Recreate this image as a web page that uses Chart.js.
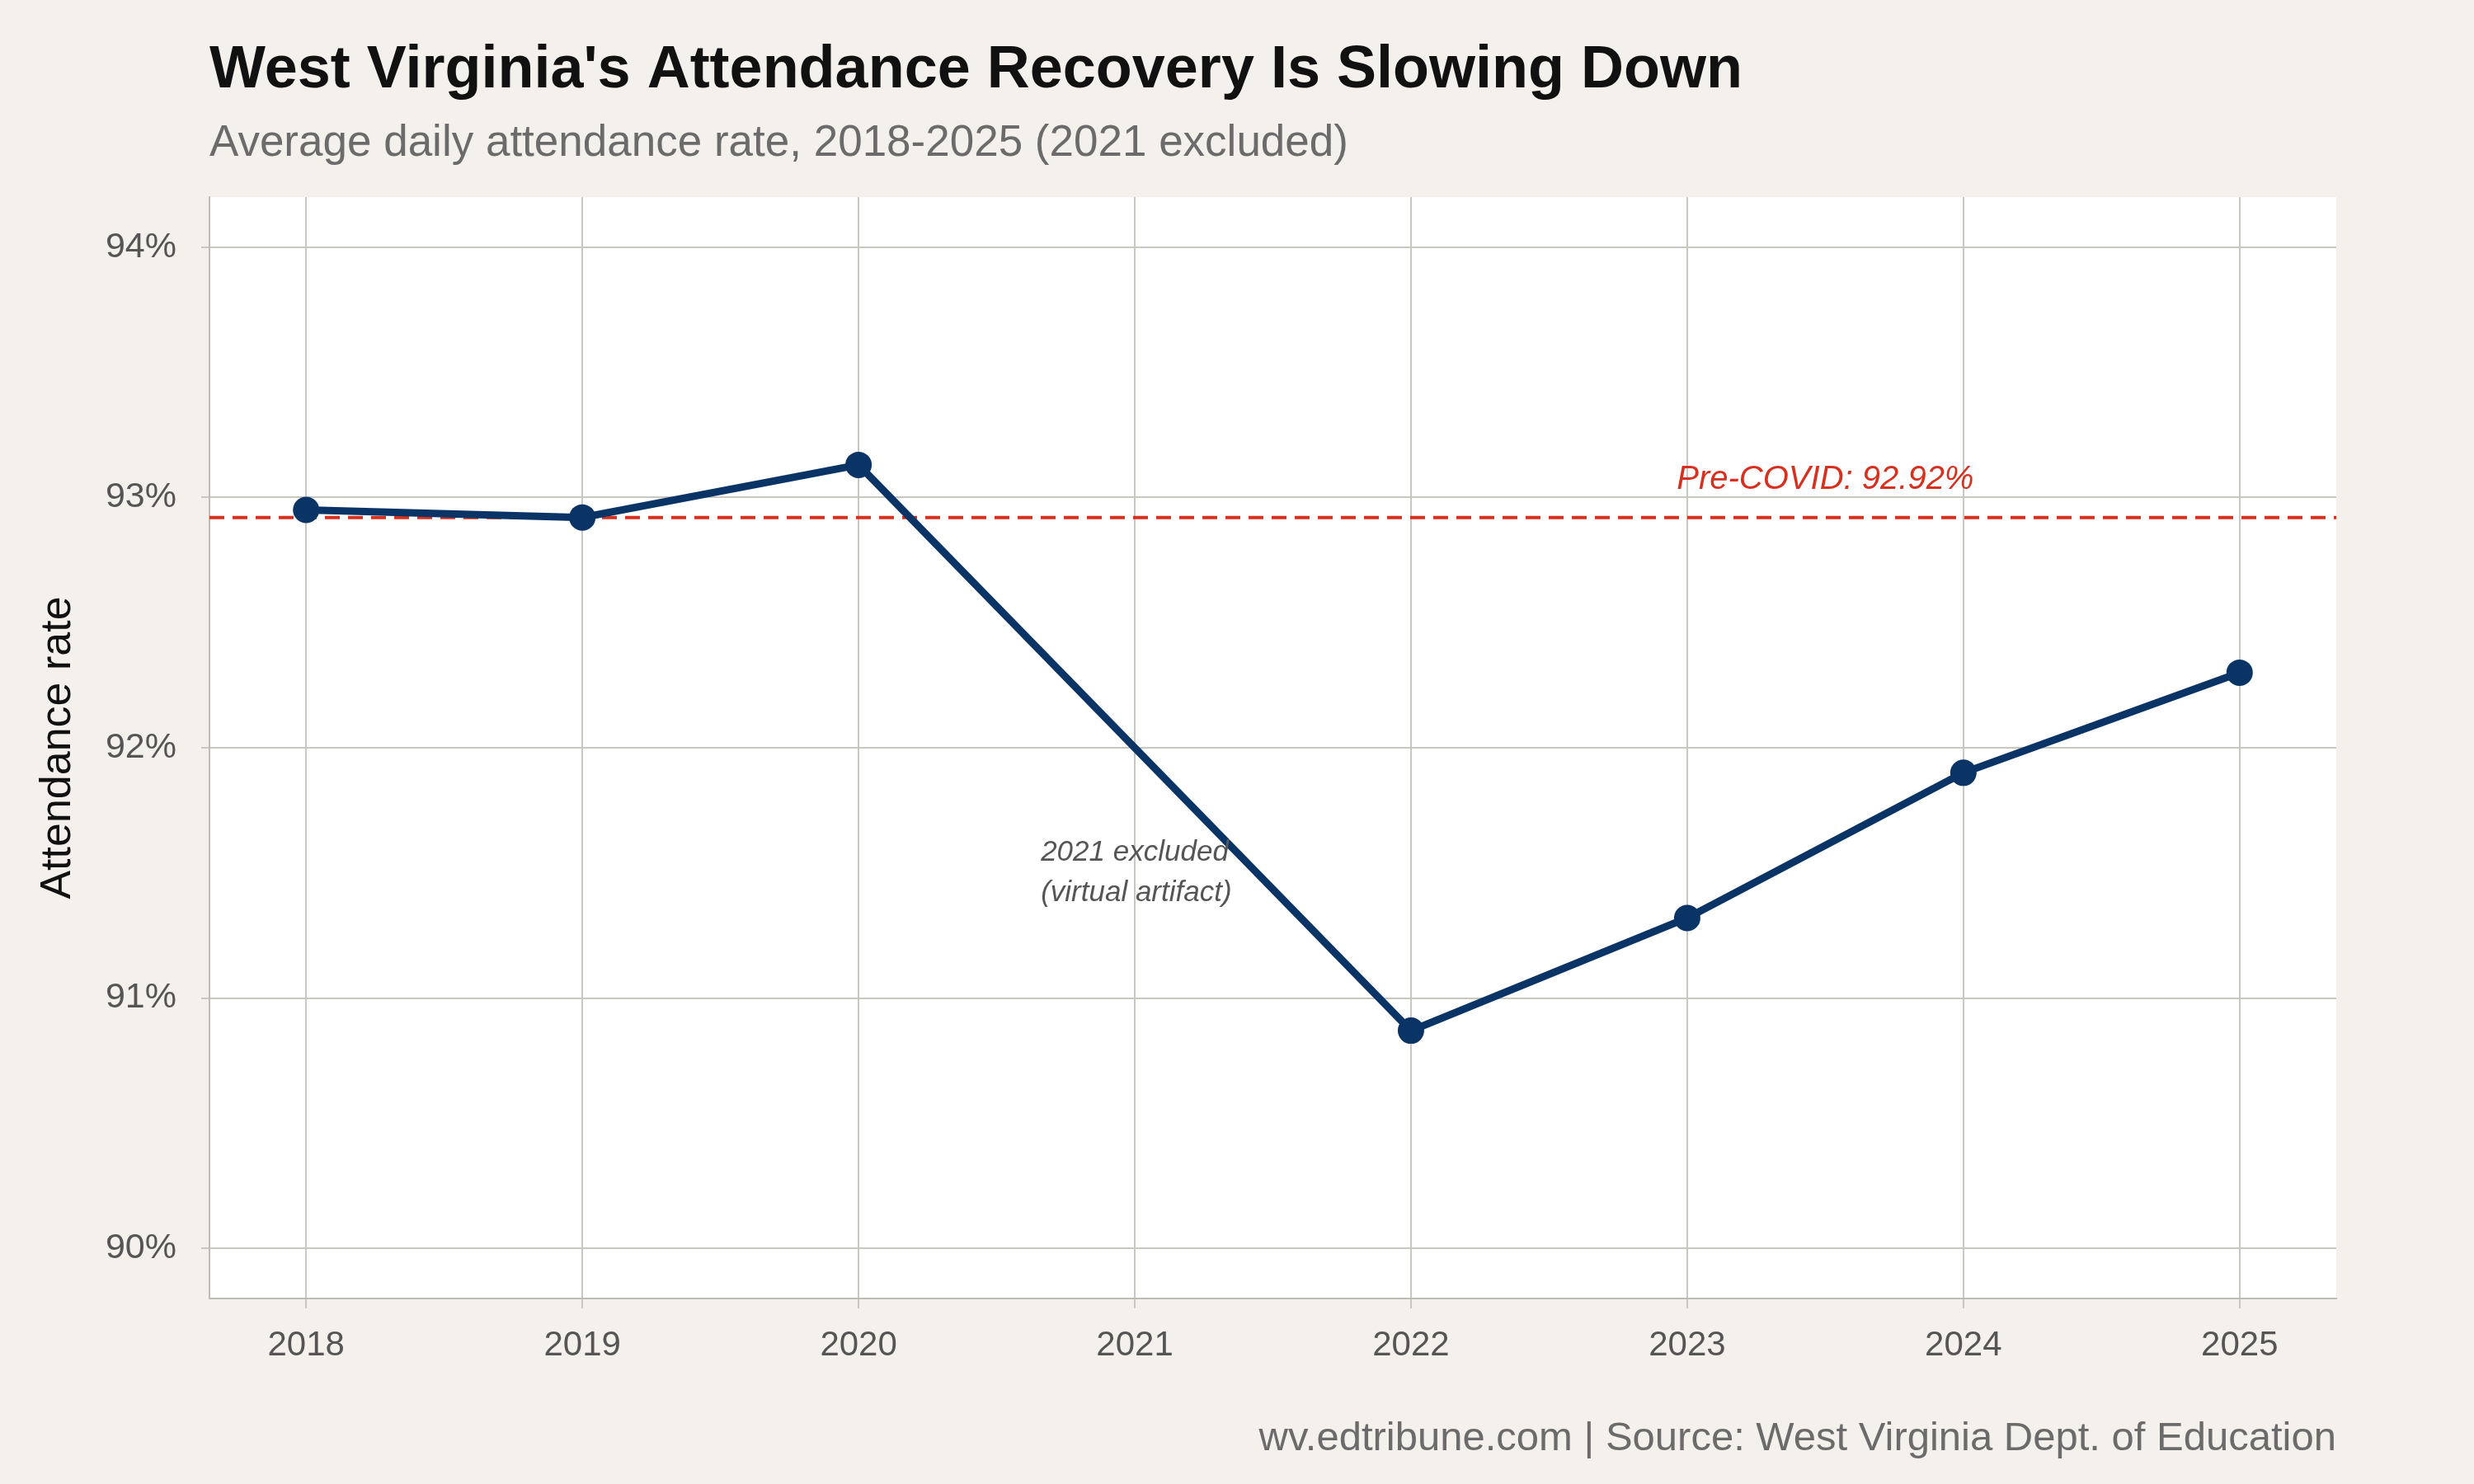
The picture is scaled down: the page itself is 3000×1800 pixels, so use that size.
<!DOCTYPE html>
<html><head><meta charset="utf-8">
<script src="https://cdn.jsdelivr.net/npm/chart.js@4"></script>
<style>html,body{margin:0;padding:0;background:#f4f1ec}#c{display:block}</style>
</head><body>
<div style="width:3000px;height:1800px"><canvas id="c" width="3000" height="1800"></canvas></div>
<script>
const years = [2018, 2019, 2020, 2021, 2022, 2023, 2024, 2025];
const rates = [92.95, 92.92, 93.13, null, 90.87, 91.32, 91.90, 92.30];
const preCovid = 92.92;
const yTicks = [90, 91, 92, 93, 94];
const F = '"Liberation Sans", Arial, sans-serif';

const deco = {
  id: 'deco',
  beforeDraw(ch) {
    const c = ch.ctx, a = ch.chartArea;
    c.save();
    c.fillStyle = '#f4f1ec'; c.fillRect(0, 0, ch.width, ch.height);
    c.fillStyle = '#ffffff'; c.fillRect(a.left, a.top, a.right - a.left, a.bottom - a.top);
    c.restore();
  },
  afterDraw(ch) {
    const c = ch.ctx, a = ch.chartArea, xs = ch.scales.x, ys = ch.scales.y;
    c.save();
    c.textBaseline = 'middle';
    c.fillStyle = '#111'; c.font = 'bold 72px ' + F; c.textAlign = 'left';
    c.fillText("West Virginia's Attendance Recovery Is Slowing Down", 254, 86);
    c.fillStyle = '#6b6b6b'; c.font = '53px ' + F;
    c.fillText('Average daily attendance rate, 2018-2025 (2021 excluded)', 254, 174);
    c.font = '49px ' + F; c.textAlign = 'right'; c.fillStyle = '#6b6b6b';
    c.fillText('wv.edtribune.com | Source: West Virginia Dept. of Education', a.right, 1745);
    c.save(); c.translate(71, (a.top + a.bottom) / 2); c.rotate(-Math.PI / 2);
    c.textAlign = 'center'; c.fillStyle = '#111'; c.font = '52px ' + F;
    c.fillText('Attendance rate', 0, 0); c.restore();
    c.textAlign = 'center'; c.fillStyle = '#d7301f'; c.font = 'italic 40px ' + F;
    c.fillText('Pre-COVID: 92.92%', xs.getPixelForValue(2023.5), ys.getPixelForValue(93.07));
    c.textAlign = 'left'; c.fillStyle = '#555'; c.font = 'italic 35px ' + F;
    c.fillText('2021 excluded', xs.getPixelForValue(2020.66), ys.getPixelForValue(91.58));
    c.fillText('(virtual artifact)', xs.getPixelForValue(2020.66), ys.getPixelForValue(91.42));
    c.restore();
  }
};

new Chart(document.getElementById('c'), {
  type: 'line',
  data: {
    datasets: [
      { data: [{x: 2017.65, y: preCovid}, {x: 2025.35, y: preCovid}], borderColor: '#d7301f',
        borderWidth: 4, borderDash: [18, 10], pointRadius: 0, order: 2 },
      { data: years.map((y, i) => ({x: y, y: rates[i]})), spanGaps: true, borderColor: '#0b3466',
        borderWidth: 9, pointRadius: 16, pointBackgroundColor: '#0b3466', pointBorderWidth: 0, order: 1 }
    ]
  },
  options: {
    responsive: false, animation: false,
    layout: { padding: { top: 239, right: 167, left: 0, bottom: 0 } },
    plugins: { legend: { display: false }, tooltip: { enabled: false } },
    scales: {
      x: { type: 'linear', min: 2017.65, max: 2025.35,
        afterFit: s => { s.height = 225; },
        afterBuildTicks: s => { s.ticks = years.map(v => ({value: v})); },
        grid: { color: '#c8c8c0', lineWidth: 2, tickLength: 12 },
        border: { color: '#bdbdb5', width: 2 },
        ticks: { color: '#555', font: { family: F, size: 42 }, padding: 20, callback: v => String(v) } },
      y: { min: 89.8, max: 94.2,
        afterFit: s => { s.width = 254; },
        afterBuildTicks: s => { s.ticks = yTicks.map(v => ({value: v})); },
        grid: { color: '#c8c8c0', lineWidth: 2, tickLength: 10 },
        border: { color: '#bdbdb5', width: 2 },
        ticks: { color: '#555', font: { family: F, size: 43 }, padding: 30, callback: v => v + '%' } }
    }
  },
  plugins: [deco]
});
</script>
</body></html>
